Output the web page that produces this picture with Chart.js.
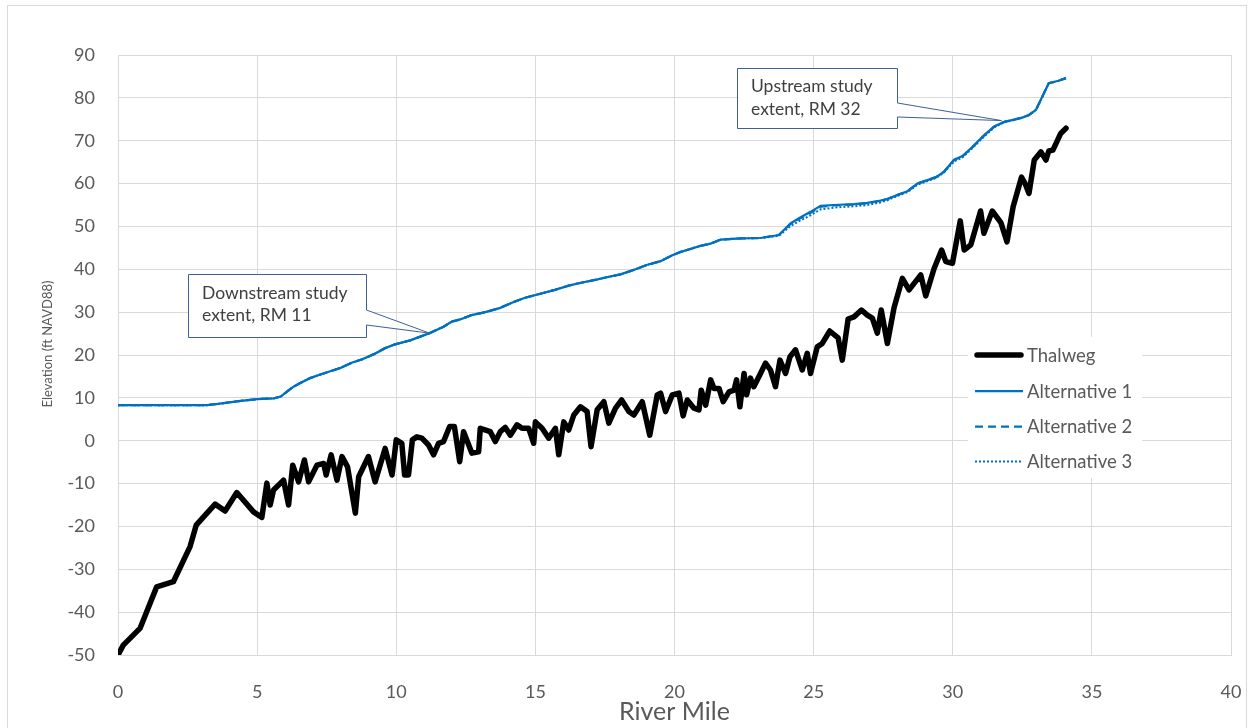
<!DOCTYPE html>
<html>
<head>
<meta charset="utf-8">
<script src="https://cdn.jsdelivr.net/npm/chart.js@4.4.1/dist/chart.umd.min.js"></script>
<style>
  html, body { margin: 0; padding: 0; background: #ffffff; }
  canvas { display: block; }
</style>
</head>
<body>
<canvas id="profile" width="1251" height="728"></canvas>
<script>
// Channel bottom (thalweg) profile: river mile and elevation (ft NAVD88)
const thalwegMile = [
  0, 0.19, 0.79, 1.39, 1.99, 2.59, 2.81, 3.49, 3.85, 4.27, 4.87, 5.17, 5.35, 5.47, 5.59, 5.95,
  6.13, 6.28, 6.49, 6.70, 6.85, 7.15, 7.39, 7.48, 7.66, 7.87, 8.05, 8.25, 8.53, 8.65, 9.0, 9.24,
  9.6, 9.85, 10.0, 10.2, 10.3, 10.44, 10.58, 10.74, 10.92, 11.16, 11.34, 11.52, 11.7, 11.92, 12.09,
  12.28, 12.42, 12.72, 12.96, 13.02, 13.38, 13.56, 13.74, 13.92, 14.1, 14.34, 14.52, 14.76, 14.94,
  15.0, 15.24, 15.48, 15.72, 15.84, 16.02, 16.2, 16.38, 16.62, 16.86, 17.0, 17.22, 17.46, 17.64,
  17.88, 18.1, 18.36, 18.54, 18.84, 19.11, 19.38, 19.5, 19.68, 19.92, 20.16, 20.31, 20.46, 20.7,
  20.88, 20.96, 21.12, 21.3, 21.42, 21.6, 21.75, 21.96, 22.14, 22.23, 22.35, 22.5, 22.59, 22.73,
  22.85, 23.09, 23.27, 23.45, 23.63, 23.79, 23.99, 24.15, 24.35, 24.59, 24.77, 24.89, 25.13, 25.31,
  25.58, 25.88, 26.03, 26.24, 26.45, 26.72, 26.93, 27.11, 27.29, 27.43, 27.65, 27.89, 28.19, 28.43,
  28.85, 29.03, 29.33, 29.6, 29.75, 29.99, 30.27, 30.41, 30.65, 31.0, 31.12, 31.42, 31.73, 31.95,
  32.17, 32.47, 32.6, 32.74, 32.93, 33.17, 33.35, 33.45, 33.6, 33.88, 34.07
];
const thalwegElev = [
  -50, -47.7, -43.8, -34.1, -32.9, -24.7, -19.7, -14.8, -16.4, -12.1, -16.6, -17.9, -9.9, -15.0, -11.5, -9.2,
  -15.0, -5.7, -9.6, -4.5, -9.6, -5.7, -5.3, -8.0, -3.3, -9.2, -3.7, -6.1, -16.9, -8.4, -3.7, -9.6,
  -1.8, -8.0, 0.2, -0.6, -8.0, -8.0, 0.2, 0.9, 0.6, -1.0, -3.3, -0.6, -0.2, 3.3, 3.3,
  -4.9, 2.1, -2.9, -2.6, 2.9, 2.1, -0.2, 2.1, 3.1, 1.3, 3.7, 2.9, 2.9, -0.6,
  4.4, 2.9, 0.6, 2.9, -3.3, 4.4, 2.5, 6.0, 7.9, 6.8, -1.4, 7.2, 9.1, 4.1,
  7.6, 9.5, 6.8, 6.0, 9.1, 1.3, 10.7, 11.1, 6.8, 10.7, 11.1, 5.8, 9.5, 7.6,
  7.2, 11.8, 8.3, 14.2, 12.2, 12.2, 9.1, 11.4, 11.8, 14.2, 7.9, 15.7, 10.7, 14.6,
  12.6, 15.7, 18.1, 16.5, 12.6, 18.8, 15.7, 19.6, 21.2, 16.5, 20.4, 15.7, 21.9, 22.7,
  25.6, 24.0, 18.8, 28.4, 28.9, 30.5, 29.3, 28.6, 25.1, 30.5, 22.7, 31.0, 37.9, 35.2,
  38.7, 33.8, 40.2, 44.5, 41.8, 41.4, 51.3, 44.5, 45.7, 53.6, 48.4, 53.6, 50.9, 46.4,
  54.6, 61.5, 60.0, 57.7, 65.5, 67.4, 65.5, 67.6, 67.8, 71.7, 72.9
];

// Computed water surface profiles for the three alternatives
const altMile = [
  0, 3.2, 3.6, 4.27, 5.0, 5.6, 5.85, 6.1, 6.31, 6.5, 6.9, 7.3, 7.63, 8.0, 8.4, 8.78, 9.2, 9.6,
  9.96, 10.5, 11.2, 11.7, 12.0, 12.3, 12.7, 13.2, 13.74, 14.2, 14.6, 15.18, 15.7, 16.2, 16.6,
  17.2, 17.6, 18.06, 18.6, 19.0, 19.5, 19.9, 20.2, 20.6, 20.9, 21.3, 21.65, 22.37, 23.09, 23.75,
  24.17, 24.47, 24.89, 25.25, 25.73, 26.45, 26.93, 27.4, 27.65, 28.0, 28.37, 28.73, 29.09, 29.4,
  29.69, 30.05, 30.35, 30.71, 31.13, 31.49, 31.85, 32.2, 32.5, 32.74, 32.99, 33.2, 33.45, 33.8, 34.07
];
const alt1Elev = [
  8.3, 8.3, 8.6, 9.2, 9.7, 9.9, 10.3, 11.6, 12.6, 13.3, 14.6, 15.5, 16.2, 17.0, 18.2, 19.0, 20.2, 21.6,
  22.5, 23.4, 25.1, 26.6, 27.8, 28.3, 29.3, 30.0, 31.0, 32.3, 33.3, 34.3, 35.2, 36.2, 36.8,
  37.6, 38.2, 38.8, 40.0, 41.0, 41.9, 43.2, 44.0, 44.8, 45.4, 46.0, 46.9, 47.2, 47.3, 48.0,
  50.7, 51.9, 53.4, 54.8, 55.0, 55.2, 55.5, 56.0, 56.4, 57.3, 58.2, 60.0, 60.8, 61.5,
  62.8, 65.6, 66.4, 68.6, 71.3, 73.3, 74.4, 74.9, 75.4, 76.0, 77.2, 80.0, 83.4, 84.0, 84.6
];
const alt2Elev = [
  8.3, 8.3, 8.6, 9.2, 9.7, 9.9, 10.3, 11.6, 12.6, 13.3, 14.6, 15.5, 16.2, 17.0, 18.2, 19.0, 20.2, 21.6,
  22.5, 23.4, 25.1, 26.6, 27.8, 28.3, 29.3, 30.0, 31.0, 32.3, 33.3, 34.3, 35.2, 36.2, 36.8,
  37.6, 38.2, 38.8, 40.0, 41.0, 41.9, 43.2, 44.0, 44.8, 45.4, 46.0, 46.9, 47.2, 47.3, 48.0,
  50.6, 51.7, 53.2, 54.6, 54.9, 55.1, 55.4, 56.0, 56.4, 57.3, 58.2, 60.0, 60.8, 61.5,
  62.8, 65.5, 66.3, 68.5, 71.2, 73.3, 74.4, 74.9, 75.4, 76.0, 77.2, 80.0, 83.4, 84.0, 84.6
];
const alt3Elev = [
  8.3, 8.3, 8.6, 9.2, 9.7, 9.9, 10.3, 11.6, 12.6, 13.3, 14.6, 15.5, 16.2, 17.0, 18.2, 19.0, 20.2, 21.6,
  22.5, 23.4, 25.1, 26.6, 27.8, 28.3, 29.3, 30.0, 31.0, 32.3, 33.3, 34.3, 35.2, 36.2, 36.8,
  37.6, 38.2, 38.8, 40.0, 41.0, 41.9, 43.2, 44.0, 44.8, 45.4, 46.0, 46.9, 47.2, 47.3, 47.8,
  50.1, 51.2, 52.6, 54.0, 54.4, 54.7, 55.0, 55.6, 56.1, 57.1, 58.0, 59.7, 60.6, 61.3,
  62.6, 65.2, 66.1, 68.3, 71.0, 73.1, 74.3, 74.8, 75.4, 76.0, 77.2, 80.0, 83.4, 84.0, 84.6
];

// Axis tick values
const mileTicks = [0, 5, 10, 15, 20, 25, 30, 35, 40];
const elevTicks = [-50, -40, -30, -20, -10, 0, 10, 20, 30, 40, 50, 60, 70, 80, 90];

const seriesNames = ['Thalweg', 'Alternative 1', 'Alternative 2', 'Alternative 3'];

const BLUE = '#0070C0';
const GRID = '#d9d9d9';
const LABEL = '#595959';
const BODY_FONT = 'Lato, "Open Sans", sans-serif';

const toPoints = (xs, ys) => xs.map((x, i) => ({ x: x, y: ys[i] }));

const seriesStyles = [
  { color: '#000000', width: 5.5, dash: [] },
  { color: BLUE, width: 2.25, dash: [] },
  { color: BLUE, width: 2.25, dash: [8, 5] },
  { color: BLUE, width: 2, dash: [2, 2] }
];

// Callout boxes marking the study limits
const callouts = [
  { lines: ['Downstream study', 'extent, RM 11'], mile: 11.2, elev: 25.1,
    box: { x: 188, y: 274, w: 178, h: 63 }, notch: [310, 325], textY: [293, 315] },
  { lines: ['Upstream study', 'extent, RM 32'], mile: 31.75, elev: 74.7,
    box: { x: 737, y: 68, w: 160, h: 60 }, notch: [103, 117], textY: [86, 109] }
];

const decorations = {
  id: 'decorations',
  beforeDraw(chart) {
    const ctx = chart.ctx;
    ctx.save();
    ctx.fillStyle = '#ffffff';
    ctx.fillRect(0, 0, chart.width, chart.height);
    ctx.restore();
  },
  afterDraw(chart) {
    const ctx = chart.ctx;
    const xs = chart.scales.x, ys = chart.scales.y;
    ctx.save();

    // outer frame
    ctx.strokeStyle = GRID;
    ctx.lineWidth = 1;
    ctx.strokeRect(7.5, 5.5, 1239, 740);

    // vertical axis title
    ctx.save();
    ctx.translate(48, 344);
    ctx.rotate(-Math.PI / 2);
    ctx.fillStyle = LABEL;
    ctx.font = '13px ' + BODY_FONT;
    ctx.textAlign = 'center';
    ctx.textBaseline = 'middle';
    ctx.fillText('Elevation (ft NAVD88)', 0, 0);
    ctx.restore();

    // legend
    const lg = { x: 968, y: 337, w: 174, h: 141, rowY: [355, 391, 426.5, 461.5] };
    ctx.fillStyle = '#ffffff';
    ctx.fillRect(lg.x, lg.y, lg.w, lg.h);
    ctx.font = '18.5px ' + BODY_FONT;
    ctx.textBaseline = 'middle';
    ctx.textAlign = 'left';
    seriesNames.forEach((name, i) => {
      const st = seriesStyles[i];
      ctx.beginPath();
      ctx.strokeStyle = st.color;
      ctx.lineWidth = st.width;
      ctx.setLineDash(st.dash);
      ctx.lineCap = i === 0 ? 'round' : 'butt';
      ctx.moveTo(i === 0 ? 977 : 975, lg.rowY[i]);
      ctx.lineTo(i === 0 ? 1021 : 1023, lg.rowY[i]);
      ctx.stroke();
      ctx.setLineDash([]);
      ctx.fillStyle = LABEL;
      ctx.fillText(name, 1027, lg.rowY[i] + 1);
    });

    // callouts
    callouts.forEach(c => {
      const tx = xs.getPixelForValue(c.mile);
      const ty = ys.getPixelForValue(c.elev);
      const b = c.box;
      ctx.beginPath();
      ctx.moveTo(b.x + 0.5, b.y + 0.5);
      ctx.lineTo(b.x + b.w + 0.5, b.y + 0.5);
      ctx.lineTo(b.x + b.w + 0.5, c.notch[0]);
      ctx.lineTo(tx, ty);
      ctx.lineTo(b.x + b.w + 0.5, c.notch[1]);
      ctx.lineTo(b.x + b.w + 0.5, b.y + b.h + 0.5);
      ctx.lineTo(b.x + 0.5, b.y + b.h + 0.5);
      ctx.closePath();
      ctx.fillStyle = '#ffffff';
      ctx.fill();
      ctx.strokeStyle = '#3f5f96';
      ctx.lineWidth = 1;
      ctx.lineJoin = 'miter';
      ctx.stroke();
      ctx.fillStyle = '#404040';
      ctx.font = '17.5px ' + BODY_FONT;
      ctx.textAlign = 'left';
      ctx.textBaseline = 'middle';
      c.lines.forEach((ln, k) => ctx.fillText(ln, b.x + 14, c.textY[k]));
    });

    ctx.restore();
  }
};

new Chart(document.getElementById('profile'), {
  type: 'line',
  data: {
    datasets: [
      { label: seriesNames[0], data: toPoints(thalwegMile, thalwegElev), borderColor: seriesStyles[0].color,
        borderWidth: seriesStyles[0].width, borderJoinStyle: 'round', borderCapStyle: 'round', order: 3 },
      { label: seriesNames[1], data: toPoints(altMile, alt1Elev), borderColor: seriesStyles[1].color,
        borderWidth: seriesStyles[1].width, order: 2 },
      { label: seriesNames[2], data: toPoints(altMile, alt2Elev), borderColor: seriesStyles[2].color,
        borderWidth: seriesStyles[2].width, borderDash: seriesStyles[2].dash, order: 1 },
      { label: seriesNames[3], data: toPoints(altMile, alt3Elev), borderColor: seriesStyles[3].color,
        borderWidth: seriesStyles[3].width, borderDash: seriesStyles[3].dash, order: 0 }
    ]
  },
  options: {
    responsive: false,
    animation: false,
    devicePixelRatio: 1,
    layout: { padding: { top: 55, right: 20, left: 0, bottom: 0 } },
    elements: { point: { radius: 0, hoverRadius: 0 }, line: { tension: 0, fill: false } },
    plugins: { legend: { display: false }, tooltip: { enabled: false } },
    events: [],
    scales: {
      x: {
        type: 'linear', min: 0, max: 40,
        afterBuildTicks(s) { s.ticks = mileTicks.map(v => ({ value: v })); },
        afterFit(s) { s.height = 73; s.paddingLeft = 0; s.paddingRight = 0; },
        ticks: { padding: 26, color: LABEL, font: { family: BODY_FONT, size: 18 } },
        grid: { color: GRID, lineWidth: 1, drawTicks: false },
        border: { color: GRID },
        title: { display: true, text: 'River Mile', color: LABEL,
                 font: { family: BODY_FONT, size: 25 }, padding: { top: 0, bottom: 1 } }
      },
      y: {
        type: 'linear', min: -50, max: 90,
        afterBuildTicks(s) { s.ticks = elevTicks.map(v => ({ value: v })); },
        afterFit(s) { s.width = 118; },
        ticks: { padding: 23, color: LABEL, font: { family: BODY_FONT, size: 18 } },
        grid: { color: GRID, lineWidth: 1, drawTicks: false },
        border: { color: GRID }
      }
    }
  },
  plugins: [decorations]
});
</script>
</body>
</html>
